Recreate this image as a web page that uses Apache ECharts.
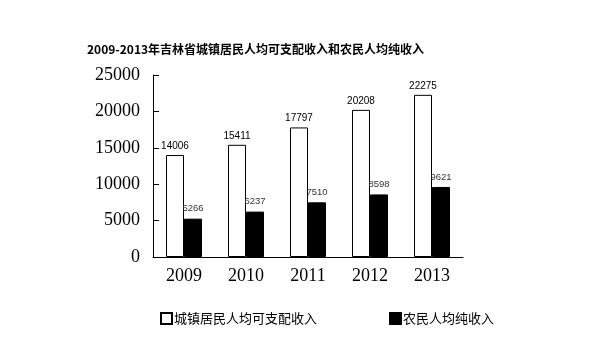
<!DOCTYPE html>
<html>
<head>
<meta charset="utf-8">
<script src="https://cdn.jsdelivr.net/npm/echarts@6/dist/echarts.min.js"></script>
<style>html,body{margin:0;padding:0;background:#fff}#c{width:594px;height:338px}</style>
</head>
<body>
<div id="c"></div>
<script>
const years = ['2009', '2010', '2011', '2012', '2013'];
const urbanIncome = [14006, 15411, 17797, 20208, 22275];
const ruralIncome = [5266, 6237, 7510, 8598, 9621];
const yTicks = { min: 0, max: 25000, interval: 5000 };
const titleText = '2009-2013年吉林省城镇居民人均可支配收入和农民人均纯收入';
const seriesNames = ['城镇居民人均可支配收入', '农民人均纯收入'];

const chart = echarts.init(document.getElementById('c'), null, { renderer: 'canvas' });
const serif = '"Liberation Serif", "Times New Roman", serif';
const cjk = '"Noto Sans CJK SC", sans-serif';
chart.setOption({
  animation: false,
  backgroundColor: '#fff',
  title: {
    text: titleText,
    left: 82, top: 38,
    textStyle: { fontSize: 12, fontWeight: 'bold', color: '#000', fontFamily: cjk }
  },
  legend: {
    left: 155, top: 307,
    itemWidth: 11, itemHeight: 11, itemGap: 72,
    icon: 'rect',
    textStyle: { fontSize: 13, color: '#000', fontFamily: cjk, padding: [0, 0, 0, -3] },
    data: seriesNames
  },
  grid: { left: 153, right: 131, top: 75, bottom: 81 },
  xAxis: {
    type: 'category',
    data: years,
    axisLine: { lineStyle: { color: '#000', width: 1 } },
    axisTick: { inside: true, length: 6, lineStyle: { color: '#000' } },
    axisLabel: { color: '#000', fontSize: 18, fontFamily: serif, margin: 10 }
  },
  yAxis: {
    type: 'value',
    min: yTicks.min, max: yTicks.max, interval: yTicks.interval,
    axisLine: { show: true, lineStyle: { color: '#000', width: 1 } },
    axisTick: { show: true, inside: true, length: 6, lineStyle: { color: '#000' } },
    splitLine: { show: false },
    axisLabel: { color: '#000', fontSize: 18, fontFamily: serif, margin: 13, formatter: v => String(v) }
  },
  series: [
    {
      name: seriesNames[0], type: 'bar', data: urbanIncome,
      barWidth: 18, barGap: '0%',
      itemStyle: { color: '#fff', borderColor: '#000', borderWidth: 1 },
      label: { show: true, position: 'top', distance: 4, color: '#000', fontSize: 10, fontFamily: '"Liberation Sans", Arial, sans-serif' }
    },
    {
      name: seriesNames[1], type: 'bar', data: ruralIncome,
      barWidth: 18,
      itemStyle: { color: '#000', borderColor: '#000', borderWidth: 1 },
      label: { show: true, position: 'top', distance: 5, color: '#333', fontSize: 9.5, fontFamily: '"Liberation Sans", Arial, sans-serif' }
    }
  ]
});
</script>
</body>
</html>
